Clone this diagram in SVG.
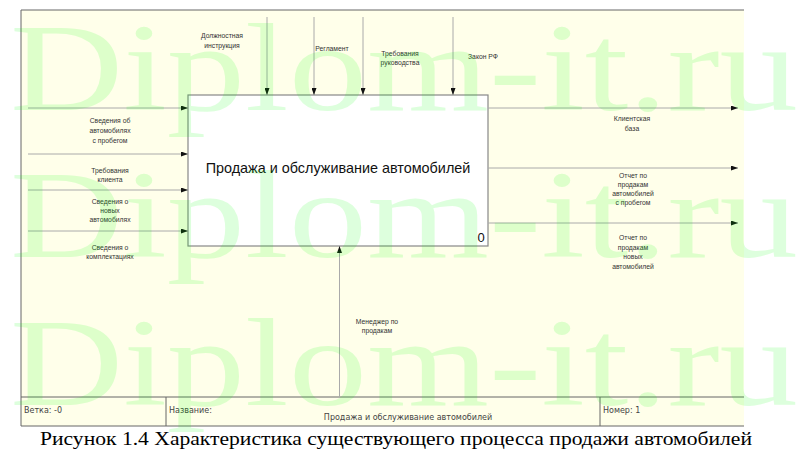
<svg xmlns="http://www.w3.org/2000/svg" width="803" height="460" viewBox="0 0 803 460">
<defs>
<marker id="ah" markerWidth="7" markerHeight="5" refX="7" refY="2.5" orient="auto" markerUnits="userSpaceOnUse">
<path d="M0,0 L7,2.5 L0,5 z" fill="#111"/>
</marker>
<style>
.lbl{font-family:"Liberation Sans",Arial,sans-serif;font-size:6.8px;fill:#333;text-anchor:middle}
.ft{font-family:"DejaVu Sans",Verdana,sans-serif;font-size:8px;fill:#444}
.arr{stroke:#aaa;stroke-width:1;fill:none;marker-end:url(#ah)}
.frame{stroke:#666;stroke-width:1;fill:none}
.wm{font-family:"Liberation Serif","Times New Roman",serif;font-size:125px;fill:#00ff00;opacity:0.13}
</style>
</defs>
<rect x="0" y="0" width="803" height="460" fill="#ffffff"/>
<rect x="21" y="10" width="723" height="416" fill="#ffffea"/>
<g id="frame">
<path class="frame" d="M21,10 H744 M21,10 V426 M21,397 H744 M21,426 H744 M166,397 V426 M600,397 V426"/>
</g>
<g id="footer">
<text class="ft" x="24" y="413">Ветка: -0</text>
<text class="ft" x="169" y="413">Название:</text>
<text class="ft" x="408" y="420" text-anchor="middle">Продажа и обслуживание автомобилей</text>
<text class="ft" x="603" y="413">Номер: 1</text>
</g>
<g id="node-0">
<rect x="188" y="95" width="300" height="151" fill="#ffffff" stroke="#888" stroke-width="1.2"/>
<text x="338" y="173" font-family="'Liberation Sans',Arial,sans-serif" font-size="14.4" fill="#111" text-anchor="middle">Продажа и обслуживание автомобилей</text>
<text x="481" y="241.5" font-family="'Liberation Sans',Arial,sans-serif" font-size="13" fill="#111" text-anchor="middle">0</text>
</g>
<g id="connectors">
<line class="arr" x1="267" y1="17" x2="267" y2="95"/>
<line class="arr" x1="314" y1="17" x2="314" y2="95"/>
<line class="arr" x1="363" y1="17" x2="363" y2="95"/>
<line class="arr" x1="453" y1="17" x2="453" y2="95"/>
<line class="arr" x1="28" y1="108" x2="188" y2="108"/>
<line class="arr" x1="28" y1="154" x2="188" y2="154"/>
<line class="arr" x1="28" y1="190" x2="188" y2="190"/>
<line class="arr" x1="28" y1="231" x2="188" y2="231"/>
<line class="arr" x1="488" y1="108" x2="738" y2="108"/>
<line class="arr" x1="488" y1="168" x2="738" y2="168"/>
<line class="arr" x1="488" y1="223" x2="738" y2="223"/>
<line class="arr" x1="339.5" y1="397" x2="339.5" y2="246"/>
</g>
<g id="labels">
<text class="lbl" x="222" y="38">Должностная</text>
<text class="lbl" x="222" y="47.5">инструкция</text>
<text class="lbl" x="332" y="51">Регламент</text>
<text class="lbl" x="400" y="55.5">Требования</text>
<text class="lbl" x="400" y="65">руководства</text>
<text class="lbl" x="483" y="59">Закон РФ</text>
<text class="lbl" x="110" y="123">Сведения об</text>
<text class="lbl" x="110" y="133">автомобилях</text>
<text class="lbl" x="110" y="142.5">с пробегом</text>
<text class="lbl" x="110" y="172.5">Требования</text>
<text class="lbl" x="110" y="181.5">клиента</text>
<text class="lbl" x="110" y="203.5">Сведения о</text>
<text class="lbl" x="110" y="212.5">новых</text>
<text class="lbl" x="110" y="222">автомобилях</text>
<text class="lbl" x="110" y="249.5">Сведения о</text>
<text class="lbl" x="110" y="258.5">комплектациях</text>
<text class="lbl" x="632" y="120.5">Клиентская</text>
<text class="lbl" x="632" y="130.5">база</text>
<text class="lbl" x="633" y="178">Отчет по</text>
<text class="lbl" x="633" y="187">продакам</text>
<text class="lbl" x="633" y="196">автомобилей</text>
<text class="lbl" x="633" y="205">с пробегом</text>
<text class="lbl" x="633" y="240">Отчет по</text>
<text class="lbl" x="633" y="249.5">продакам</text>
<text class="lbl" x="633" y="259">новых</text>
<text class="lbl" x="633" y="268.5">автомобилей</text>
<text class="lbl" x="377" y="324">Менеджер по</text>
<text class="lbl" x="377" y="333">продакам</text>
</g>
<g id="watermark">
<text class="wm" x="10" y="110" textLength="788" lengthAdjust="spacingAndGlyphs">Diplom-it.ru</text>
<text class="wm" x="10" y="257" textLength="788" lengthAdjust="spacingAndGlyphs">Diplom-it.ru</text>
<text class="wm" x="10" y="405" textLength="788" lengthAdjust="spacingAndGlyphs">Diplom-it.ru</text>
</g>
<text x="40" y="445" font-family="'Liberation Serif','Times New Roman',serif" font-size="18.5" fill="#000" textLength="712" lengthAdjust="spacingAndGlyphs">Рисунок 1.4 Характеристика существующего процесса продажи автомобилей</text>
</svg>
